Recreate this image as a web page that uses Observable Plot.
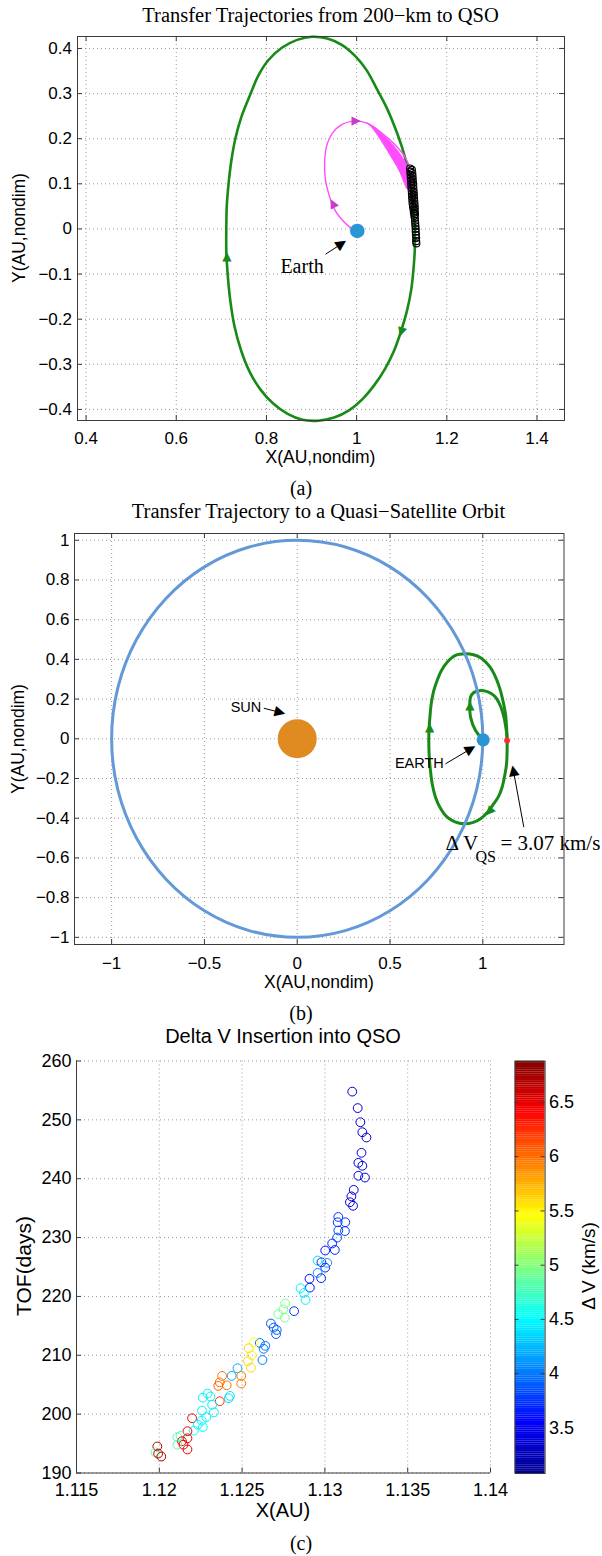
<!DOCTYPE html>
<html>
<head>
<meta charset="utf-8">
<script src="https://cdn.jsdelivr.net/npm/d3@7"></script>
<script src="https://cdn.jsdelivr.net/npm/@observablehq/plot@0.6"></script>
<style>
  body { margin: 0; background: #fff; }
  #page { position: relative; width: 602px; height: 1556px; overflow: hidden; background: #fff; }
  .t { position: absolute; white-space: nowrap; color: #000; line-height: 1; }
</style>
</head>
<body>
<div id="page"></div>
<script>
// ---------------- Panel (a): transfers from a 200-km orbit to the QSO ----------------
const qsoOrbitA = [
  [0.711, 0.0], [0.712, 0.05], [0.716, 0.10], [0.722, 0.15], [0.731, 0.20], [0.745, 0.25],
  [0.765, 0.30], [0.782, 0.34], [0.805, 0.375], [0.835, 0.402], [0.868, 0.419], [0.901, 0.426],
  [0.935, 0.422], [0.967, 0.408], [0.996, 0.384], [1.022, 0.352], [1.045, 0.31], [1.066, 0.27],
  [1.085, 0.225], [1.101, 0.18], [1.113, 0.135], [1.121, 0.09], [1.126, 0.045], [1.129, 0.0],
  [1.129, -0.045], [1.126, -0.09], [1.121, -0.135], [1.112, -0.18], [1.099, -0.225], [1.083, -0.27],
  [1.063, -0.31], [1.04, -0.345], [1.013, -0.377], [0.983, -0.402], [0.95, -0.418], [0.915, -0.425],
  [0.88, -0.423], [0.847, -0.41], [0.815, -0.387], [0.786, -0.355], [0.762, -0.315], [0.744, -0.27],
  [0.729, -0.215], [0.72, -0.16], [0.714, -0.1], [0.711, -0.05]
];
const transferPathA = [
  [1.0, -0.004], [0.985, 0.004], [0.965, 0.023], [0.95, 0.045], [0.939, 0.075], [0.931, 0.108],
  [0.929, 0.145], [0.933, 0.182], [0.946, 0.212], [0.968, 0.232], [0.998, 0.239], [1.024, 0.234],
  [1.053, 0.215], [1.083, 0.189], [1.105, 0.163], [1.118, 0.137]
];
// spread of the transfer family where the arcs fan out before arrival
const bandY     = [0.234, 0.225, 0.2, 0.175, 0.15, 0.125, 0.1, 0.088];
const bandInner = [1.024, 1.034, 1.052, 1.068, 1.083, 1.097, 1.107, 1.112];
const bandOuter = [1.024, 1.04, 1.068, 1.09, 1.107, 1.118, 1.122, 1.123];
const arrivalsA = [
  [1.1185, 0.134], [1.1225, 0.131], [1.119, 0.127], [1.1235, 0.124], [1.1195, 0.12], [1.124, 0.117],
  [1.120, 0.113], [1.1245, 0.11], [1.1205, 0.106], [1.125, 0.103], [1.121, 0.099], [1.1255, 0.096],
  [1.1215, 0.092], [1.126, 0.089], [1.122, 0.085], [1.1265, 0.082], [1.1225, 0.078], [1.127, 0.075],
  [1.123, 0.071], [1.1275, 0.068], [1.1235, 0.064], [1.128, 0.061], [1.124, 0.057], [1.1285, 0.054],
  [1.125, 0.05], [1.129, 0.047], [1.126, 0.043], [1.129, 0.04], [1.127, 0.036], [1.1295, 0.033],
  [1.128, 0.029], [1.129, 0.024], [1.1295, 0.018], [1.13, 0.012], [1.1305, 0.006], [1.131, 0.0],
  [1.131, -0.006], [1.1315, -0.013], [1.132, -0.02], [1.132, -0.027], [1.1325, -0.032]
];
const earthA = [[1.0015, -0.0044]];
const orbitArrowsA = [[0.712, -0.06, 0], [1.098, -0.23, -162]];          // x, y, heading (deg)
const transferArrowsA = [[0.946, 0.058, -27], [1.0, 0.239, 90]];
const earthNoteA = [{text: "Earth", x: 0.879, y: -0.084}];
const earthPointerA = [{x1: 0.931, y1: -0.056, x2: 0.968, y2: -0.032, angle: 57}];
const xTicksA = [0.4, 0.6, 0.8, 1, 1.2, 1.4];
const xTickLabelsA = ["0.4", "0.6", "0.8", "1", "1.2", "1.4"];
const yTicksA = [0.4, 0.3, 0.2, 0.1, 0, -0.1, -0.2, -0.3, -0.4];
const yTickLabelsA = ["0.4", "0.3", "0.2", "0.1", "0", "\u22120.1", "\u22120.2", "\u22120.3", "\u22120.4"];

// ---------------- Panel (b): transfer to a quasi-satellite orbit ----------------
const earthOrbitB = [
  [1, 0], [0.966, 0.259], [0.866, 0.5], [0.707, 0.707], [0.5, 0.866], [0.259, 0.966],
  [0, 1], [-0.259, 0.966], [-0.5, 0.866], [-0.707, 0.707], [-0.866, 0.5], [-0.966, 0.259],
  [-1, 0], [-0.966, -0.259], [-0.866, -0.5], [-0.707, -0.707], [-0.5, -0.866], [-0.259, -0.966],
  [0, -1], [0.259, -0.966], [0.5, -0.866], [0.707, -0.707], [0.866, -0.5], [0.966, -0.259]
];
const qsoOrbitB = [
  [1.131, -0.009], [1.128, -0.126], [1.117, -0.19], [1.104, -0.244], [1.085, -0.29], [1.059, -0.327],
  [1.025, -0.37], [0.988, -0.403], [0.945, -0.422], [0.898, -0.428], [0.85, -0.418], [0.808, -0.395],
  [0.772, -0.35], [0.745, -0.294], [0.728, -0.23], [0.718, -0.16], [0.711, -0.08], [0.709, -0.009],
  [0.711, 0.06], [0.716, 0.12], [0.722, 0.176], [0.735, 0.24], [0.754, 0.294], [0.778, 0.345],
  [0.808, 0.386], [0.853, 0.42], [0.907, 0.428], [0.95, 0.423], [0.988, 0.408], [1.022, 0.38],
  [1.051, 0.344], [1.075, 0.297], [1.095, 0.243], [1.11, 0.185], [1.122, 0.126], [1.128, 0.06]
];
const transferB = [
  [1.002, -0.005], [0.961, 0.042], [0.934, 0.109], [0.930, 0.168], [0.934, 0.21], [0.950, 0.232],
  [0.970, 0.24], [0.993, 0.243], [1.015, 0.24], [1.045, 0.228], [1.068, 0.21], [1.088, 0.18],
  [1.104, 0.143], [1.116, 0.1], [1.124, 0.058], [1.129, 0.025], [1.131, -0.009]
];
const sunB = [[0, 0]];
const earthB = [[1.002, -0.005]];
const insertionB = [[1.131, -0.009]];
const greenArrowsB = [[0.930, 0.168, 0], [0.713, 0.058, 0], [1.032, -0.37, -139]];
const pointersB = [
  {x1: -0.18, y1: 0.154, x2: -0.088, y2: 0.132, angle: 104},
  {x1: 0.799, y1: -0.126, x2: 0.938, y2: -0.049, angle: 60},
  {x1: 1.221, y1: -0.445, x2: 1.164, y2: -0.156, angle: -10.5}
];
const sunNoteB = [{text: "SUN", x: -0.276, y: 0.159}];
const earthNoteB = [{text: "EARTH", x: 0.79, y: -0.126}];
const dvNoteB = [{text: "\u0394 V", x: 0.799, y: -0.525}, {text: "= 3.07 km/s", x: 1.095, y: -0.525}];
const dvSubB = [{text: "QS", x: 0.961, y: -0.595}];
const xTicksB = [-1, -0.5, 0, 0.5, 1];
const xTickLabelsB = ["\u22121", "\u22120.5", "0", "0.5", "1"];
const yTicksB = [1, 0.8, 0.6, 0.4, 0.2, 0, -0.2, -0.4, -0.6, -0.8, -1];
const yTickLabelsB = ["1", "0.8", "0.6", "0.4", "0.2", "0", "\u22120.2", "\u22120.4", "\u22120.6", "\u22120.8", "\u22121"];

// ---------------- Panel (c): insertion delta-V versus arrival X and TOF ----------------
const arrivalX = [
  1.13165, 1.13198, 1.13214, 1.13226, 1.13251, 1.13221, 1.13202, 1.13226, 1.13202, 1.13242,
  1.13174, 1.13160, 1.13151, 1.13170, 1.13081, 1.13077, 1.13123, 1.13081, 1.13121, 1.13074,
  1.13044, 1.13060, 1.13002, 1.12956, 1.12979, 1.13014, 1.13002, 1.12956, 1.12977, 1.12907,
  1.12909, 1.12853, 1.12874, 1.12883, 1.12760, 1.12749, 1.12719, 1.12758, 1.12814, 1.12674,
  1.12691, 1.12709, 1.12705, 1.12607, 1.12570, 1.12640, 1.12540, 1.12630, 1.12558, 1.12535,
  1.12623, 1.12553, 1.12472, 1.12437, 1.12379, 1.12495, 1.12365, 1.12407, 1.12495, 1.12356,
  1.12291, 1.12309, 1.12263, 1.12426, 1.12419, 1.12365, 1.12319, 1.12330, 1.12258, 1.12284,
  1.12198, 1.12256, 1.12233, 1.12263, 1.12209, 1.12170, 1.12109, 1.12128, 1.12170, 1.12137,
  1.12109, 1.12146, 1.12170, 1.11988, 1.11977, 1.11993, 1.12012
];
const tofDays = [
  254.8, 252.0, 249.6, 247.9, 247.0, 244.4, 242.7, 242.2, 240.5, 240.2,
  238.1, 237.0, 236.0, 235.4, 233.5, 232.6, 232.6, 231.2, 231.1, 230.0,
  229.0, 227.9, 227.8, 226.1, 225.8, 225.7, 224.9, 224.0, 223.1, 223.0,
  221.5, 221.4, 220.6, 219.4, 218.8, 217.8, 217.0, 216.4, 217.5, 215.4,
  214.7, 214.3, 213.6, 212.1, 212.2, 211.6, 211.2, 211.1, 210.0, 209.0,
  209.2, 207.9, 207.8, 206.5, 206.5, 206.5, 205.4, 204.9, 205.2, 204.8,
  203.5, 203.0, 202.8, 203.1, 202.7, 202.2, 201.6, 200.3, 200.6, 199.5,
  199.3, 198.9, 198.2, 197.8, 197.2, 197.1, 196.1, 196.3, 195.9, 195.4,
  194.8, 194.8, 194.0, 194.5, 193.5, 193.3, 192.8
];
const deltaV = [
  3.35, 3.35, 3.35, 3.35, 3.35, 3.4, 3.4, 3.4, 3.4, 3.4,
  3.45, 3.45, 3.45, 3.45, 3.75, 3.75, 3.75, 3.8, 3.8, 3.85,
  3.7, 3.7, 3.6, 4.35, 3.7, 4.1, 3.7, 4.1, 3.7, 3.6,
  3.6, 4.45, 4.45, 4.45, 4.95, 4.95, 4.95, 4.95, 3.75, 3.85,
  3.9, 3.9, 3.9, 4.0, 5.45, 4.0, 5.6, 4.0, 5.5, 5.6,
  4.0, 5.6, 4.2, 4.15, 5.95, 5.95, 6.0, 6.0, 5.95, 6.05,
  4.45, 4.45, 4.45, 4.4, 4.4, 6.2, 4.45, 4.45, 4.45, 4.45,
  6.45, 4.5, 4.5, 4.5, 4.55, 6.45, 4.8, 4.8, 6.45, 6.45,
  4.8, 6.45, 6.5, 6.7, 4.85, 6.7, 6.7
];
const xTicksC = [1.115, 1.12, 1.125, 1.13, 1.135, 1.14];
const xTickLabelsC = ["1.115", "1.12", "1.125", "1.13", "1.135", "1.14"];
const yTicksC = [260, 250, 240, 230, 220, 210, 200, 190];
const yTickLabelsC = ["260", "250", "240", "230", "220", "210", "200", "190"];
const dvLimits = [3.08, 6.88];
const colorbarTicks = [3.5, 4, 4.5, 5, 5.5, 6, 6.5];
const colorbarTickLabels = ["3.5", "4", "4.5", "5", "5.5", "6", "6.5"];

// jet colour map spread over the colour limits
const jetStops = [0, 0.125, 0.375, 0.625, 0.875, 1];
const jetColors = ["#00008f", "#0000ff", "#00ffff", "#ffff00", "#ff0000", "#800000"];
const jetScale = {
  type: "linear",
  domain: jetStops.map(t => dvLimits[0] + t * (dvLimits[1] - dvLimits[0])),
  range: jetColors
};

// ---------------- drawing helpers ----------------
const page = document.getElementById("page");
const SANS = '"Liberation Sans", Arial, Helvetica, sans-serif';
const SERIF = '"Liberation Serif", "Times New Roman", serif';
const AXIS = "#3a3a3a";
const GRID = "#9a9a9a";
const GREEN = "#178a17";
const MAGENTA = "#ff4cff";

function put(text, cx, cy, font, size, rot = 0) {
  const d = document.createElement("div");
  d.className = "t";
  d.textContent = text;
  d.style.left = cx + "px";
  d.style.top = cy + "px";
  d.style.fontFamily = font;
  d.style.fontSize = size + "px";
  d.style.transform = `translate(-50%,-50%) rotate(${rot}deg)`;
  page.appendChild(d);
}

function place(svg, top, left = 0) {
  svg.style.position = "absolute";
  svg.style.top = top + "px";
  svg.style.left = left + "px";
  page.appendChild(svg);
}

const heads = (data, size, fill) => Plot.text(data, {
  x: d => d[0], y: d => d[1], rotate: d => d[2], text: () => "\u25B2",
  fontSize: size, fill, fontFamily: "DejaVu Sans"
});
const xy = {x: d => d[0], y: d => d[1]};

function panel(o) {
  const fw = o.width - o.ml - o.mr, fh = o.height - o.mt - o.mb;
  const xl = new Map(o.xTicks.map((t, i) => [t, o.xLabels[i]]));
  const yl = new Map(o.yTicks.map((t, i) => [t, o.yLabels[i]]));
  const grid = [
    Plot.ruleX(o.xTicks, {x: d => d, stroke: GRID, strokeDasharray: "1,3"}),
    Plot.ruleY(o.yTicks, {y: d => d, stroke: GRID, strokeDasharray: "1,3"})
  ];
  const box = o.box ? [
    Plot.frame({stroke: AXIS}),
    Plot.tickX(o.xTicks, {x: d => d, insetBottom: fh - 5, stroke: AXIS}),
    Plot.tickY(o.yTicks, {y: d => d, insetLeft: fw - 5, stroke: AXIS})
  ] : [
    Plot.ruleX([o.xDomain[0]], {x: d => d, stroke: AXIS}),
    Plot.ruleY([o.yDomain[0]], {y: d => d, stroke: AXIS})
  ];
  const ticks = [
    Plot.tickX(o.xTicks, {x: d => d, insetTop: fh - 5, stroke: AXIS}),
    Plot.tickY(o.yTicks, {y: d => d, insetRight: fw - 5, stroke: AXIS}),
    Plot.axisX(o.xTicks, {anchor: "bottom", tickSize: 0, tickPadding: o.xPad, tickFormat: d => xl.get(d),
      label: null, fontSize: o.fs, fontFamily: SANS}),
    Plot.axisY(o.yTicks, {anchor: "left", tickSize: 0, tickPadding: o.yPad, tickFormat: d => yl.get(d),
      label: null, fontSize: o.fs, fontFamily: SANS})
  ];
  return Plot.plot({
    width: o.width, height: o.height,
    marginLeft: o.ml, marginRight: o.mr, marginTop: o.mt, marginBottom: o.mb,
    x: {domain: o.xDomain}, y: {domain: o.yDomain},
    color: o.color,
    style: {fontFamily: SANS, fontSize: o.fs + "px", background: "transparent", overflow: "visible"},
    marks: [...grid, ...o.marks, ...box, ...ticks]
  });
}

// ---------------- panel (a) ----------------
const bandRows = bandY.map((y, i) => ({y, inner: bandInner[i], outer: bandOuter[i]}));
place(panel({
  width: 602, height: 470, ml: 77, mr: 38, mt: 36, mb: 50,
  xDomain: [0.381, 1.461], yDomain: [-0.4245, 0.4265],
  xTicks: xTicksA, xLabels: xTickLabelsA, yTicks: yTicksA, yLabels: yTickLabelsA,
  fs: 17, xPad: 11.5, yPad: 5.5, box: true,
  marks: [
    Plot.line(qsoOrbitA, {...xy, stroke: GREEN, strokeWidth: 2.6, curve: "catmull-rom-closed"}),
    Plot.areaX(bandRows, {y: "y", x1: "inner", x2: "outer", fill: MAGENTA, stroke: MAGENTA,
      strokeWidth: 1, curve: "catmull-rom"}),
    Plot.line(transferPathA, {...xy, stroke: MAGENTA, strokeWidth: 1.4, curve: "catmull-rom"}),
    Plot.dot(arrivalsA, {...xy, r: 3.5, stroke: "#000", strokeWidth: 1.1, fill: "none"}),
    heads(orbitArrowsA, 12, GREEN),
    heads(transferArrowsA, 12, "#c83cc8"),
    Plot.dot(earthA, {...xy, r: 7.3, fill: "#2a96d4"}),
    Plot.link(earthPointerA, {x1: "x1", y1: "y1", x2: "x2", y2: "y2", stroke: "#000", strokeWidth: 1}),
    Plot.text(earthPointerA, {x: "x2", y: "y2", rotate: "angle", text: () => "\u25B2",
      fontSize: 14, fontFamily: "DejaVu Sans", fill: "#000"}),
    Plot.text(earthNoteA, {x: "x", y: "y", text: "text", fontFamily: SERIF, fontSize: 20, fill: "#000"})
  ]
}), 0);

// ---------------- panel (b) ----------------
place(panel({
  width: 602, height: 480, ml: 74, mr: 38.5, mt: 33, mb: 36,
  xDomain: [-1.2, 1.4375], yDomain: [-1.036, 1.034],
  xTicks: xTicksB, xLabels: xTickLabelsB, yTicks: yTicksB, yLabels: yTickLabelsB,
  fs: 17, xPad: 12, yPad: 5, box: true,
  marks: [
    Plot.line(qsoOrbitB, {...xy, stroke: GREEN, strokeWidth: 3, curve: "catmull-rom-closed"}),
    Plot.line(transferB, {...xy, stroke: GREEN, strokeWidth: 3, curve: "catmull-rom"}),
    Plot.line(earthOrbitB, {...xy, stroke: "#6499d8", strokeWidth: 3, curve: "catmull-rom-closed"}),
    heads(greenArrowsB, 12, GREEN),
    Plot.dot(sunB, {...xy, r: 19.5, fill: "#e08a22"}),
    Plot.dot(earthB, {...xy, r: 6.6, fill: "#2b95d4"}),
    Plot.dot(insertionB, {...xy, r: 3, fill: "#ff2a2a"}),
    Plot.link(pointersB, {x1: "x1", y1: "y1", x2: "x2", y2: "y2", stroke: "#000", strokeWidth: 1}),
    Plot.text(pointersB, {x: "x2", y: "y2", rotate: "angle", text: () => "\u25B2",
      fontSize: 14, fontFamily: "DejaVu Sans", fill: "#000"}),
    Plot.text(sunNoteB, {x: "x", y: "y", text: "text", textAnchor: "middle",
      fontFamily: SANS, fontSize: 14.5, fill: "#000"}),
    Plot.text(earthNoteB, {x: "x", y: "y", text: "text", textAnchor: "end",
      fontFamily: SANS, fontSize: 14.5, fill: "#000"}),
    Plot.text(dvNoteB, {x: "x", y: "y", text: "text", textAnchor: "start",
      fontFamily: SERIF, fontSize: 21, fill: "#000"}),
    Plot.text(dvSubB, {x: "x", y: "y", text: "text", textAnchor: "start",
      fontFamily: SERIF, fontSize: 16, fill: "#000"})
  ]
}), 500);

// ---------------- panel (c) ----------------
const scatterC = arrivalX.map((x, i) => ({x, tof: tofDays[i], dv: deltaV[i]}));
place(panel({
  width: 602, height: 460, ml: 76, mr: 112, mt: 20.5, mb: 27.5,
  xDomain: [1.115, 1.14], yDomain: [190, 260],
  xTicks: xTicksC, xLabels: xTickLabelsC, yTicks: yTicksC, yLabels: yTickLabelsC,
  fs: 18, xPad: 10.5, yPad: 5, box: false, color: jetScale,
  marks: [
    Plot.dot(scatterC, {x: "x", y: "tof", stroke: "dv", r: 4.4, strokeWidth: 1, fill: "none"})
  ]
}), 1040);

// colour bar for panel (c)
const barStep = 0.02;
const barSteps = d3.range(dvLimits[0], dvLimits[1], barStep);
const cbYl = new Map(colorbarTicks.map((t, i) => [t, colorbarTickLabels[i]]));
place(Plot.plot({
  width: 102, height: 460, marginLeft: 14.6, marginRight: 57.4, marginTop: 20.7, marginBottom: 27,
  x: {domain: [0, 1], axis: null}, y: {domain: dvLimits},
  color: jetScale,
  style: {fontFamily: SANS, fontSize: "18px", background: "transparent", overflow: "visible"},
  marks: [
    Plot.rect(barSteps, {x1: () => 0, x2: () => 1, y1: d => d, y2: d => Math.min(d + barStep * 1.05, dvLimits[1]),
      fill: d => d + barStep / 2}),
    Plot.frame({stroke: AXIS}),
    Plot.tickY(colorbarTicks, {y: d => d, insetLeft: 26, stroke: AXIS}),
    Plot.tickY(colorbarTicks, {y: d => d, insetRight: 26, stroke: AXIS}),
    Plot.axisY(colorbarTicks, {anchor: "right", tickSize: 0, tickPadding: 4, tickFormat: d => cbYl.get(d),
      label: null, fontSize: 18, fontFamily: SANS})
  ]
}), 1040, 500);

// ---------------- titles, axis labels and captions ----------------
put("Transfer Trajectories from 200\u2212km to QSO", 320.5, 14.5, SERIF, 20.5);
put("X(AU,nondim)", 320.5, 458, SANS, 17.5);
put("Y(AU,nondim)", 20, 228, SANS, 17.5, -90);
put("(a)", 301, 488, SERIF, 20);

put("Transfer Trajectory to a Quasi\u2212Satellite Orbit", 318.5, 511, SERIF, 20.5);
put("X(AU,nondim)", 319, 983, SANS, 17.5);
put("Y(AU,nondim)", 19, 738.5, SANS, 17.5, -90);
put("(b)", 301, 1013, SERIF, 20);

put("Delta V Insertion into QSO", 283, 1036, SANS, 20);
put("X(AU)", 283, 1510, SANS, 20);
put("TOF(days)", 23, 1266, SANS, 21, -90);
put("\u0394 V (km/s)", 588, 1266, SANS, 19, -90);
put("(c)", 301, 1543, SERIF, 20);
</script>
</body>
</html>
